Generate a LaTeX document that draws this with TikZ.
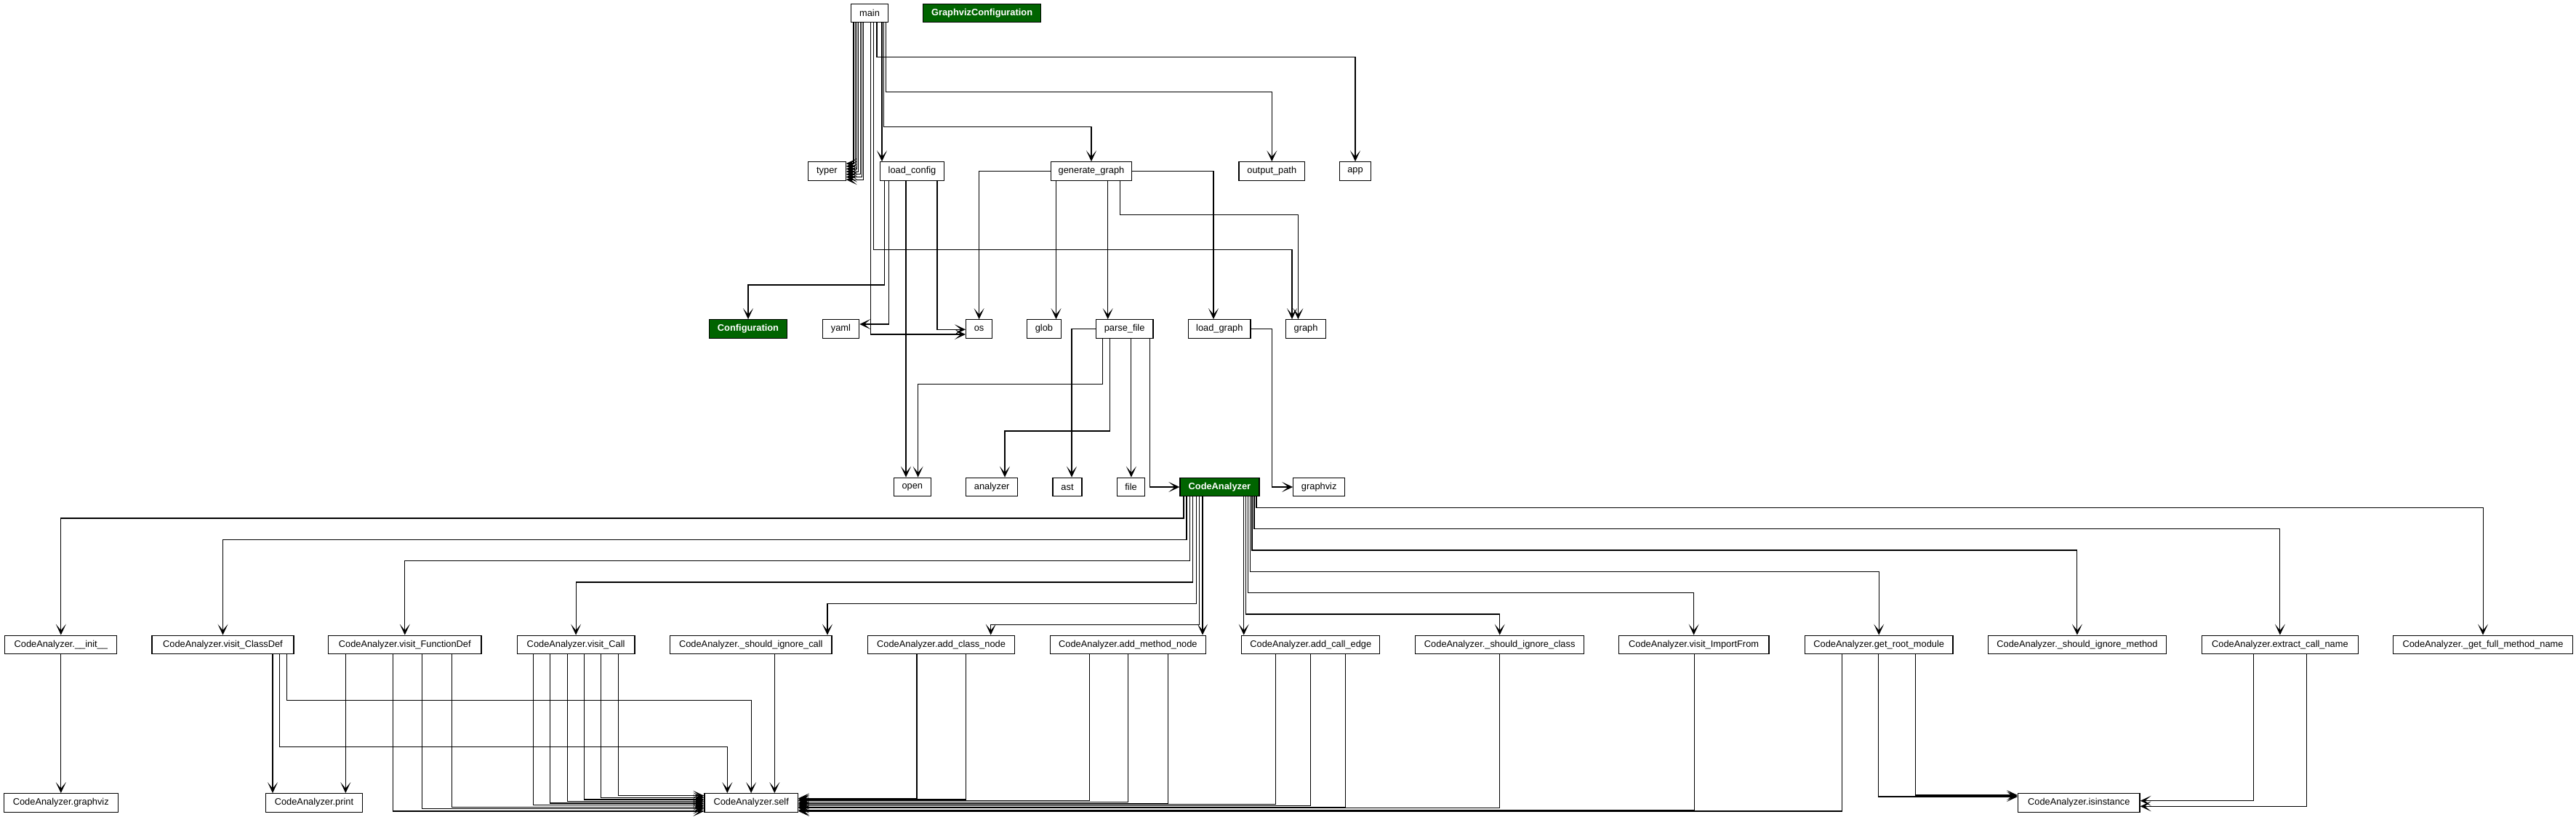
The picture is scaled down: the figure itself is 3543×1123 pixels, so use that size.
\documentclass[tikz,border=0pt]{standalone}
\usepackage{fontspec}
\setmainfont{Liberation Sans}
\usepackage{xcolor}
\usetikzlibrary{arrows.meta}
\definecolor{mygreen}{RGB}{0,100,0}

\begin{document}
\begin{tikzpicture}[x=0.02cm, y=-0.02cm]
    \tikzstyle{box}=[draw, line width=0.7pt, minimum height=0.512cm, inner xsep=0.15cm, inner ysep=0pt, font=\fontsize{7.3}{8}\selectfont]
    \tikzstyle{cls}=[box, fill=mygreen, text=white, font=\fontsize{7.3}{8}\selectfont\bfseries]
    \tikzstyle{arr}=[line width=0.6pt, -{Stealth[length=0.3cm, width=0.28cm, inset=0.17cm]}]
    \useasboundingbox (0,0) rectangle (3543,1123);
    % row 1
    \node[box, minimum width=1.01cm] (main) at (1196,18) {main};
    \node[cls, minimum width=3.25cm] (gvconf) at (1350.6,18) {GraphvizConfiguration};
    % row 2
    \node[box, minimum width=1.03cm] (typer) at (1137.4,235.5) {typer};
    \node[box, minimum width=1.77cm] (loadcfg) at (1254.5,235.5) {load\_config};
    \node[box, minimum width=2.22cm] (gengraph) at (1501,235.5) {generate\_graph};
    \node[box, minimum width=1.81cm] (outpath) at (1749.3,235.5) {output\_path};
    \node[box, minimum width=0.85cm] (app) at (1864,235.5) {app};
    % row 3
    \node[cls, minimum width=2.15cm] (config) at (1029,452.5) {Configuration};
    \node[box, minimum width=1.01cm] (yaml) at (1156.4,452.5) {yaml};
    \node[box, minimum width=0.72cm] (os) at (1346.6,452.5) {os};
    \node[box, minimum width=0.94cm] (glob) at (1435.9,452.5) {glob};
    \node[box, minimum width=1.58cm] (parse) at (1546.6,452.5) {parse\_file};
    \node[box, minimum width=1.71cm] (loadgraph) at (1677.3,452.5) {load\_graph};
    \node[box, minimum width=1.09cm] (graph) at (1796,452.5) {graph};
    % row 4
    \node[box, minimum width=1.02cm] (open) at (1254.8,670) {open};
    \node[box, minimum width=1.42cm] (analyzer) at (1364.2,670) {analyzer};
    \node[box, minimum width=0.80cm] (ast) at (1468,670) {ast};
    \node[box, minimum width=0.76cm] (file) at (1555.6,670) {file};
    \node[cls, minimum width=2.18cm] (ca) at (1677.4,670) {CodeAnalyzer};
    \node[box, minimum width=1.42cm] (graphviz) at (1814.2,670) {graphviz};
    % row 5
    \node[box, minimum width=3.08cm] (init) at (83.8,887) {CodeAnalyzer.\_\_init\_\_};
    \node[box, minimum width=3.90cm] (classdef) at (306.5,887) {CodeAnalyzer.visit\_ClassDef};
    \node[box, minimum width=4.21cm] (funcdef) at (556.8,887) {CodeAnalyzer.visit\_FunctionDef};
    \node[box, minimum width=3.24cm] (call) at (792.1,887) {CodeAnalyzer.visit\_Call};
    \node[box, minimum width=4.45cm] (igncall) at (1032.8,887) {CodeAnalyzer.\_should\_ignore\_call};
    \node[box, minimum width=4.04cm] (addclass) at (1294.6,887) {CodeAnalyzer.add\_class\_node};
    \node[box, minimum width=4.27cm] (addmethod) at (1551.4,887) {CodeAnalyzer.add\_method\_node};
    \node[box, minimum width=3.80cm] (addedge) at (1802.8,887) {CodeAnalyzer.add\_call\_edge};
    \node[box, minimum width=4.64cm] (ignclass) at (2062.7,887) {CodeAnalyzer.\_should\_ignore\_class};
    \node[box, minimum width=4.14cm] (importfrom) at (2329.6,887) {CodeAnalyzer.visit\_ImportFrom};
    \node[box, minimum width=4.07cm] (rootmod) at (2584.2,887) {CodeAnalyzer.get\_root\_module};
    \node[box, minimum width=4.90cm] (ignmethod) at (2856.9,887) {CodeAnalyzer.\_should\_ignore\_method};
    \node[box, minimum width=4.30cm] (extract) at (3135.9,887) {CodeAnalyzer.extract\_call\_name};
    \node[box, minimum width=4.93cm] (fullname) at (3415,887) {CodeAnalyzer.\_get\_full\_method\_name};
    % row 6
    \node[box, minimum width=3.14cm] (cagv) at (83.8,1104.5) {CodeAnalyzer.graphviz};
    \node[box, minimum width=2.65cm] (print) at (432,1104.5) {CodeAnalyzer.print};
    \node[box, minimum width=2.57cm] (self) at (1033.2,1104.5) {CodeAnalyzer.self};
    \node[box, minimum width=3.35cm] (isinst) at (2859.3,1104.5) {CodeAnalyzer.isinstance};
    % main
    \draw[arr] (main.south-|1174,0) |- (typer.east|-0,225);
    \draw[arr] (main.south-|1176.3,0) |- (typer.east|-0,228.7);
    \draw[arr] (main.south-|1178.6,0) |- (typer.east|-0,232.4);
    \draw[arr] (main.south-|1180.9,0) |- (typer.east|-0,236.1);
    \draw[arr] (main.south-|1183.2,0) |- (typer.east|-0,239.8);
    \draw[arr] (main.south-|1185.5,0) |- (typer.east|-0,243.5);
    \draw[arr] (main.south-|1187.8,0) |- (typer.east|-0,247.2);
    \draw[arr] (main.south-|1197.5,0) |- (os.west|-0,460);
    \draw[arr] (main.south-|1201.5,0) -- (1201.5,343.3) -| (graph.north-|1777,0);
    \draw[arr] (main.south-|1206,0) -- (1206,78.7) -| (app.north);
    \draw[arr] (main.south-|1213,0) -- (loadcfg.north-|1213,0);
    \draw[arr] (main.south-|1215.5,0) -- (1215.5,174.3) -| (gengraph.north);
    \draw[arr] (main.south-|1218.5,0) -- (1218.5,126.7) -| (outpath.north);
    % load_config
    \draw[arr] (loadcfg.south-|1216.5,0) -- (1216.5,392) -| (config.north);
    \draw[arr] (loadcfg.south-|1222.9,0) |- (yaml.east|-0,446);
    \draw[arr] (loadcfg.south-|1246,0) -- (open.north-|1246,0);
    \draw[arr] (loadcfg.south-|1289,0) |- (os.west|-0,453.3);
    % generate_graph
    \draw[arr] (gengraph.west) -| (os.north);
    \draw[arr] (gengraph.south-|1452.5,0) -- (glob.north-|1452.5,0);
    \draw[arr] (gengraph.south-|1523.7,0) -- (parse.north-|1523.7,0);
    \draw[arr] (gengraph.south-|1540.3,0) -- (1540.3,295.7) -| (graph.north-|1785.4,0);
    \draw[arr] (gengraph.east) -| (loadgraph.north-|1669,0);
    % parse_file, load_graph
    \draw[arr] (parse.west) -| (ast.north-|1474,0);
    \draw[arr] (parse.south-|1516.5,0) -- (1516.5,528.7) -| (open.north-|1262.6,0);
    \draw[arr] (parse.south-|1526.2,0) -- (1526.2,593) -| (analyzer.north-|1382,0);
    \draw[arr] (parse.south-|1555.9,0) -- (file.north-|1555.9,0);
    \draw[arr] (parse.south-|1581.3,0) |- (ca.west);
    \draw[arr] (loadgraph.east) -| (1749.8,670) -- (graphviz.west);
    % CodeAnalyzer
    \draw[arr] (ca.south-|1628,0) -- (1628,713) -| (init.north);
    \draw[arr] (ca.south-|1632,0) -- (1632,742.3) -| (classdef.north);
    \draw[arr] (ca.south-|1636.3,0) -- (1636.3,771.7) -| (funcdef.north);
    \draw[arr] (ca.south-|1640.7,0) -- (1640.7,801) -| (call.north);
    \draw[arr] (ca.south-|1645.3,0) -- (1645.3,830.3) -| (igncall.north-|1138,0);
    \draw[arr] (ca.south-|1649.7,0) -- (1649.7,859.7) -| (addclass.north-|1362.7,0);
    \draw[arr] (ca.south-|1654,0) -- (addmethod.north-|1654,0);
    \draw[arr] (ca.south-|1710.7,0) -- (addedge.north-|1710.7,0);
    \draw[arr] (ca.south-|1713.7,0) -- (1713.7,845) -| (ignclass.north);
    \draw[arr] (ca.south-|1716.3,0) -- (1716.3,815.7) -| (importfrom.north);
    \draw[arr] (ca.south-|1719.3,0) -- (1719.3,786.3) -| (rootmod.north);
    \draw[arr] (ca.south-|1722,0) -- (1722,757) -| (ignmethod.north);
    \draw[arr] (ca.south-|1725,0) -- (1725,727.7) -| (extract.north);
    \draw[arr] (ca.south-|1728,0) -- (1728,698.3) -| (fullname.north);
    % methods
    \draw[arr] (init.south) -- (cagv.north);
    \draw[arr] (classdef.south-|375,0) -- (print.north-|375,0);
    \draw[arr] (classdef.south-|384.2,0) -- (384.2,1027.7) -| (self.north-|1000.3,0);
    \draw[arr] (classdef.south-|394.1,0) -- (394.1,963.3) -| (self.north-|1033.1,0);
    \draw[arr] (funcdef.south-|475.3,0) -- (print.north-|475.3,0);
    \draw[arr] (funcdef.south-|540.3,0) |- (self.west|-0,1116);
    \draw[arr] (funcdef.south-|580.9,0) |- (self.west|-0,1112.7);
    \draw[arr] (funcdef.south-|621.4,0) |- (self.west|-0,1110.3);
    \draw[arr] (call.south-|733.9,0) |- (self.west|-0,1107.7);
    \draw[arr] (call.south-|756.9,0) |- (self.west|-0,1105);
    \draw[arr] (call.south-|780.6,0) |- (self.west|-0,1102.3);
    \draw[arr] (call.south-|803.6,0) |- (self.west|-0,1100);
    \draw[arr] (call.south-|826.5,0) |- (self.west|-0,1097.3);
    \draw[arr] (call.south-|850.3,0) |- (self.west|-0,1094.7);
    \draw[arr] (igncall.south-|1065.3,0) -- (self.north-|1065.3,0);
    \draw[arr] (addclass.south-|1261,0) |- (self.east|-0,1098.3);
    \draw[arr] (addclass.south-|1328.3,0) |- (self.east|-0,1100);
    \draw[arr] (addmethod.south-|1498.2,0) |- (self.east|-0,1101.3);
    \draw[arr] (addmethod.south-|1551.8,0) |- (self.east|-0,1103.7);
    \draw[arr] (addmethod.south-|1606.1,0) |- (self.east|-0,1105.7);
    \draw[arr] (addedge.south-|1754.6,0) |- (self.east|-0,1106.7);
    \draw[arr] (addedge.south-|1802.8,0) |- (self.east|-0,1108.7);
    \draw[arr] (addedge.south-|1850.2,0) |- (self.east|-0,1110.3);
    \draw[arr] (ignclass.south-|2062.2,0) |- (self.east|-0,1111.7);
    \draw[arr] (importfrom.south-|2330,0) |- (self.east|-0,1114.7);
    \draw[arr] (rootmod.south-|2533,0) |- (self.east|-0,1116);
    \draw[arr] (rootmod.south-|2583.8,0) |- (isinst.west|-0,1096);
    \draw[arr] (rootmod.south-|2634.5,0) |- (isinst.west|-0,1094);
    \draw[arr] (extract.south-|3099.8,0) |- (isinst.east|-0,1101.7);
    \draw[arr] (extract.south-|3172,0) |- (isinst.east|-0,1109.3);
\end{tikzpicture}
\end{document}
